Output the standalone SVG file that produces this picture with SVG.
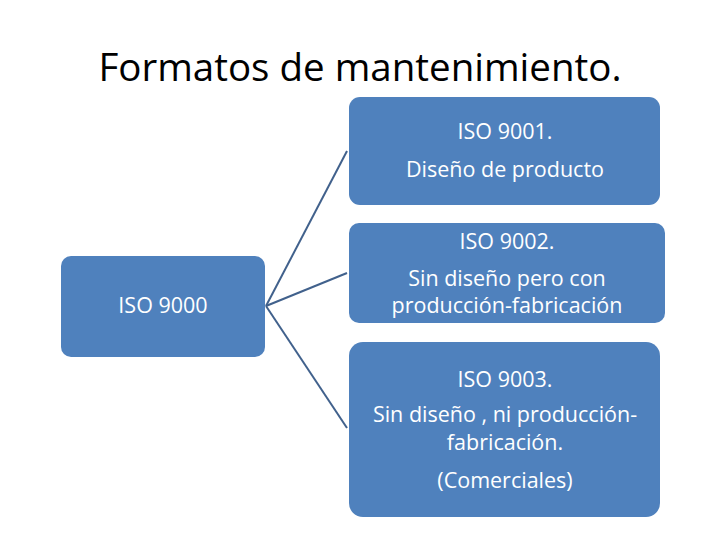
<svg xmlns="http://www.w3.org/2000/svg" width="720" height="540" viewBox="0 0 720 540">
<style>
.box{fill:#4F81BD;}
.t{font-family:"Open Sans","Liberation Sans",sans-serif;font-size:21.5px;fill:#FFFFFF;text-anchor:middle;}
.title{font-family:"Open Sans","Liberation Sans",sans-serif;font-size:38.5px;fill:#000000;text-anchor:middle;}
.conn{stroke:#41618C;stroke-width:2;fill:none;}
</style>
<rect width="720" height="540" fill="#FFFFFF"/>
<text class="title" x="360" y="81">Formatos de mantenimiento.</text>
<g id="connectors">
<line class="conn" x1="266" y1="306" x2="347" y2="151"/>
<line class="conn" x1="266" y1="306" x2="347" y2="273"/>
<line class="conn" x1="266" y1="306" x2="347" y2="428"/>
</g>
<g id="iso9000">
<rect class="box" x="61" y="256" width="204" height="101" rx="10"/>
<text class="t" x="163" y="313">ISO 9000</text>
</g>
<g id="iso9001">
<rect class="box" x="349" y="97" width="311" height="108" rx="11"/>
<text class="t" x="505" y="139">ISO 9001.</text>
<text class="t" x="505" y="177">Diseño de producto</text>
</g>
<g id="iso9002">
<rect class="box" x="349" y="223" width="316" height="100" rx="10"/>
<text class="t" x="507" y="249">ISO 9002.</text>
<text class="t" x="507" y="286">Sin diseño pero con</text>
<text class="t" x="507" y="313">producción-fabricación</text>
</g>
<g id="iso9003">
<rect class="box" x="349" y="342" width="311" height="175" rx="14"/>
<text class="t" x="505" y="387">ISO 9003.</text>
<text class="t" x="505" y="422">Sin diseño , ni producción-</text>
<text class="t" x="505" y="450">fabricación.</text>
<text class="t" x="505" y="488">(Comerciales)</text>
</g>
</svg>
